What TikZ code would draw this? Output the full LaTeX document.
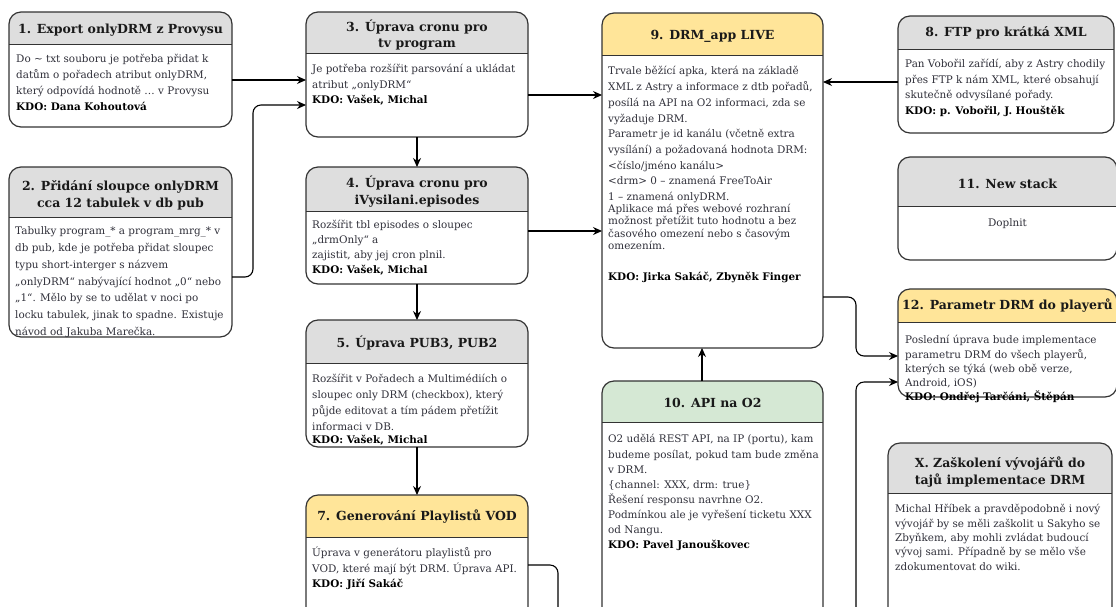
\documentclass[tikz,border=0pt]{standalone}
\usepackage{fontspec}
\setmainfont{DejaVu Serif}
\usetikzlibrary{arrows.meta}

\definecolor{hlavicka}{HTML}{DEDEDE}
\definecolor{zluta}{HTML}{FFE599}
\definecolor{zelena}{HTML}{D5E8D4}
\definecolor{ramec}{HTML}{333333}
\definecolor{popis}{HTML}{30303A}
\newcommand{\vrch}{\rule{0pt}{10pt}}

\begin{document}
\begin{tikzpicture}[x=1pt, y=-1pt,
      box/.style={anchor=north west, fill=white, inner sep=0, outer sep=0, rounded corners=12},
      nadpis/.style={align=center, font=\bfseries\fontsize{12.5}{16.5}\selectfont, text=black!90},
      telo/.style={anchor=north west, align=left, inner sep=0, text=popis,
        font=\fontsize{10.4}{#1}\selectfont},
      telo/.default=15.5,
      sipka/.style={draw=black, line width=1.1pt, -{Stealth[length=9pt,width=8pt]}},
      vedeni/.style={sipka, rounded corners=8}]
  %.
  \useasboundingbox (0,0) rectangle (1116,606);
  \clip (0,0) rectangle (1116,606);
  %.
  \node[box, minimum width=223, minimum height=115] (b1) at (9,12) {};
  \node[box, minimum width=223, minimum height=170] (b2) at (9,167) {};
  \node[box, minimum width=222, minimum height=125] (b3) at (306,12) {};
  \node[box, minimum width=222, minimum height=117] (b4) at (306,167) {};
  \node[box, minimum width=222, minimum height=127] (b5) at (306,320) {};
  \node[box, minimum width=222, minimum height=130] (b7) at (306,495) {};
  \node[box, minimum width=221, minimum height=335] (b9) at (602,13) {};
  \node[box, minimum width=221, minimum height=240] (b10) at (602,381) {};
  \node[box, minimum width=216, minimum height=117] (b8) at (898,16) {};
  \node[box, minimum width=219, minimum height=103] (b11) at (898,157) {};
  \node[box, minimum width=219, minimum height=108] (b12) at (898,289) {};
  \node[box, minimum width=224, minimum height=180] (bX) at (888,443) {};
  %.
  \foreach \b/\v/\c in {b1/32/hlavicka, b2/50/hlavicka, b3/41/hlavicka, b4/44/hlavicka,
      b5/43/hlavicka, b7/42/zluta, b9/42/zluta, b10/41/zelena, b8/33/hlavicka,
      b11/49/hlavicka, b12/33/zluta, bX/50/hlavicka} {
    \fill[\c] ([yshift=-\v]\b.north west) [rounded corners=12] -- (\b.north west)
      -- (\b.north east) [sharp corners] -- ([yshift=-\v]\b.north east) -- cycle;
    \draw[ramec, line width=1pt] ([yshift=-\v]\b.north west) -- ([yshift=-\v]\b.north east);
    \draw[ramec, line width=1.2pt, rounded corners=12] (\b.north west) rectangle (\b.south east);
  }
  %.
  \node[nadpis] (t1) at ([yshift=-18]b1.north) {1. Export onlyDRM z Provysu};
  \node[nadpis] (t2) at ([yshift=-28.5]b2.north) {2. Přidání sloupce onlyDRM\\cca 12 tabulek v db pub};
  \node[nadpis] (t3) at ([yshift=-23]b3.north) {3. Úprava cronu pro\\tv program};
  \node[nadpis] (t4) at ([yshift=-24.5]b4.north) {4. Úprava cronu pro\\iVysilani.episodes};
  \node[nadpis] (t5) at ([yshift=-23]b5.north) {5. Úprava PUB3, PUB2};
  \node[nadpis] (t7) at ([yshift=-22]b7.north) {7. Generování Playlistů VOD};
  \node[nadpis] (t9) at ([yshift=-23]b9.north) {9. DRM\_app LIVE};
  \node[nadpis] (t10) at ([yshift=-22]b10.north) {10. API na O2};
  \node[nadpis] (t8) at ([yshift=-17]b8.north) {8. FTP pro krátká XML};
  \node[nadpis] (t11) at ([yshift=-27]b11.north) {11. New stack};
  \node[nadpis] (t12) at ([yshift=-17]b12.north) {12. Parametr DRM do playerů};
  \node[nadpis] (tX) at ([yshift=-29]bX.north) {X. Zaškolení vývojářů do\\tajů implementace DRM};
  %.
  \node[telo=15.7] (p1) at ([xshift=7,yshift=-40.7]b1.north west) {\vrch Do \textasciitilde{} txt souboru je potřeba přidat k\\
    datům o pořadech atribut onlyDRM,\\
    který odpovídá hodnotě … v Provysu\\
    \textbf{\color{black}KDO: Dana Kohoutová}};
  \node[telo=16.7] (p2) at ([xshift=6,yshift=-57.7]b2.north west) {\vrch Tabulky program\_* a program\_mrg\_* v\\
    db pub, kde je potřeba přidat sloupec\\
    typu short-interger s názvem\\
    „onlyDRM“ nabývající hodnot „0“ nebo\\
    „1“. Mělo by se to udělat v noci po\\
    locku tabulek, jinak to spadne. Existuje\\
    návod od Jakuba Marečka.};
  \node[telo] (p3) at ([xshift=6,yshift=-50.7]b3.north west) {\vrch Je potřeba rozšířit parsování a ukládat\\
    atribut „onlyDRM“\\
    \textbf{\color{black}KDO: Vašek, Michal}};
  \node[telo=15] (p4) at ([xshift=6,yshift=-51.7]b4.north west) {\vrch Rozšířit tbl episodes o sloupec\\
    „drmOnly“ a\\
    zajistit, aby jej cron plnil.\\
    \textbf{\color{black}KDO: Vašek, Michal}};
  \node[telo=16] (p5) at ([xshift=6,yshift=-52.7]b5.north west) {\vrch Rozšířit v Pořadech a Multimédiích o\\
    sloupec only DRM (checkbox), který\\
    půjde editovat a tím pádem přetížit\\
    informaci v DB.\\[-3pt]
    \textbf{\color{black}KDO: Vašek, Michal}};
  \node[telo] (p7) at ([xshift=6,yshift=-51.7]b7.north west) {\vrch Úprava v generátoru playlistů pro\\
    VOD, které mají být DRM. Úprava API.\\
    \textbf{\color{black}KDO: Jiří Sakáč}};
  \node[telo=15.7] (p9) at ([xshift=6,yshift=-51.7]b9.north west) {\vrch Trvale běžící apka, která na základě\\
    XML z Astry a informace z dtb pořadů,\\
    posílá na API na O2 informaci, zda se\\
    vyžaduje DRM.\\
    Parametr je id kanálu (včetně extra\\
    vysílání) a požadovaná hodnota DRM:\\
    <číslo/jméno kanálu>\\
    <drm> 0 – znamená FreeToAir\\
    1 – znamená onlyDRM.\\[-3.5pt]
    Aplikace má přes webové rozhraní\\[-3.5pt]
    možnost přetížit tuto hodnotu a bez\\[-3.5pt]
    časového omezení nebo s časovým\\[-3.5pt]
    omezením.\\
    \\
    \textbf{\color{black}KDO: Jirka Sakáč, Zbyněk Finger}};
  \node[telo=15.1] (p10) at ([xshift=6,yshift=-51.7]b10.north west) {\vrch O2 udělá REST API, na IP (portu), kam\\
    budeme posílat, pokud tam bude změna\\
    v DRM.\\
    \{channel: XXX, drm: true\}\\
    Řešení responsu navrhne O2.\\
    Podmínkou ale je vyřešení ticketu XXX\\
    od Nangu.\\
    \textbf{\color{black}KDO: Pavel Janouškovec}};
  \node[telo] (p8) at ([xshift=7,yshift=-41.7]b8.north west) {\vrch Pan Vobořil zařídí, aby z Astry chodily\\
    přes FTP k nám XML, které obsahují\\
    skutečně odvysílané pořady.\\
    \textbf{\color{black}KDO: p. Vobořil, J. Houštěk}};
  \node[text=popis, font=\fontsize{10.4}{12}\selectfont] (p11) at ([yshift=-67]b11.north) {Doplnit};
  \node[telo=14.2] (p12) at ([xshift=7,yshift=-44.7]b12.north west) {\vrch Poslední úprava bude implementace\\
    parametru DRM do všech playerů,\\
    kterých se týká (web obě verze,\\
    Android, iOS)\\
    \textbf{\color{black}KDO: Ondřej Tarčáni, Štěpán}};
  \node[telo=14.3] (pX) at ([xshift=7,yshift=-59.7]bX.north west) {\vrch Michal Hříbek a pravděpodobně i nový\\
    vývojář by se měli zaškolit u Sakyho se\\
    Zbyňkem, aby mohli zvládat budoucí\\
    vývoj sami. Případně by se mělo vše\\
    zdokumentovat do wiki.};
  %.
  \draw[sipka] (b1.east |- 0,80) -- (b3.west |- 0,80);
  \draw[vedeni] (b2.east |- 0,277) -| (253,105) -- (b3.west |- 0,105);
  \draw[sipka] (b3.south) -- (b4.north);
  \draw[sipka] (b4.south) -- (b5.north);
  \draw[sipka] (b5.south) -- (b7.north);
  \draw[sipka] (b3.east |- 0,95) -- (b9.west |- 0,95);
  \draw[sipka] (b4.east |- 0,231) -- (b9.west |- 0,231);
  \draw[sipka] (b8.west |- 0,82) -- (b9.east |- 0,82);
  \draw[sipka] (b10.north -| 702,0) -- (b9.south -| 702,0);
  \draw[vedeni] (b9.east |- 0,297) -| (856,356) -- (b12.west |- 0,356);
  \draw[vedeni] (b7.east |- 0,565) -| (558,640) -| (856,382) -- (b12.west |- 0,382);
  %.
\end{tikzpicture}
\end{document}
